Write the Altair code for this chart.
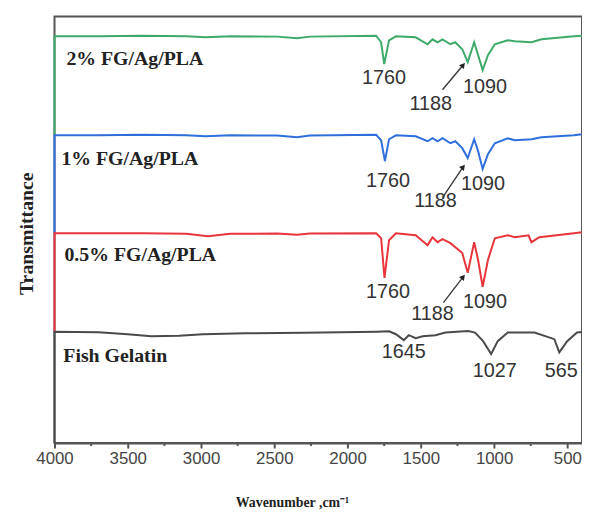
import altair as alt
import pandas as pd

# ---- spectra: (wavenumber cm-1, offset transmittance) ----
green = [(4000, 311), (4000, 411), (3700, 411), (3400, 411.5), (3100, 411), (2970, 410), (2800, 411),
         (2480, 410.7), (2345, 409), (2257, 410.7), (1805, 411.7), (1771, 405), (1750, 383), (1717, 407),
         (1670, 411), (1535, 410), (1454, 403), (1420, 408), (1386, 405), (1352, 408), (1298, 403),
         (1265, 405), (1217, 398), (1180, 385), (1136, 405), (1109, 392), (1078, 377), (1042, 392),
         (995, 403), (907, 407), (859, 406), (745, 405), (677, 408), (454, 411), (400, 411.5)]
blue = [(4000, 212), (4000, 311), (3700, 311), (3400, 311.5), (3100, 311), (2970, 310), (2800, 311),
        (2480, 310.7), (2345, 309), (2257, 310.7), (1805, 311.5), (1771, 306), (1745, 285), (1717, 307),
        (1670, 311), (1535, 310), (1454, 305), (1420, 308), (1386, 305), (1352, 308), (1298, 303),
        (1265, 305), (1217, 298), (1180, 288), (1136, 307), (1109, 295), (1078, 277), (1042, 292),
        (995, 303), (907, 308), (859, 306), (745, 307), (677, 309), (454, 311), (400, 312)]
red = [(4000, 113), (4000, 212), (3700, 212), (3400, 212), (3100, 211.5), (2953, 209), (2800, 211.5),
       (2480, 211.7), (2345, 210.5), (2257, 211.7), (1805, 212), (1771, 207), (1748, 167), (1717, 205),
       (1670, 212), (1535, 210), (1454, 200), (1420, 208), (1386, 203), (1352, 206), (1298, 202),
       (1217, 192), (1180, 172), (1136, 203), (1109, 185), (1078, 158), (1042, 185), (995, 207),
       (907, 210), (859, 208), (765, 210), (745, 203), (691, 208), (454, 212), (400, 213)]
gray = [(4000, 0), (4000, 112.6), (3700, 112), (3500, 110), (3340, 108), (3150, 108.5), (2987, 110),
        (2700, 111), (2300, 111.5), (1800, 112.6), (1717, 113), (1670, 110), (1616, 104), (1582, 109),
        (1535, 106), (1487, 108), (1400, 109), (1332, 111.7), (1177, 113.3), (1130, 111.7), (1075, 103),
        (1020, 90), (975, 103), (907, 111.7), (724, 111.7), (589, 105), (555, 91.7), (501, 103),
        (434, 111.7), (400, 112.3)]

series_names = ["2% FG/Ag/PLA", "1% FG/Ag/PLA", "0.5% FG/Ag/PLA", "Fish Gelatin"]
series_colors = ["#3daa6a", "#2f6fdc", "#e8353c", "#4a4a4a"]

major_ticks = [4000, 3500, 3000, 2500, 2000, 1500, 1000, 500]
minor_ticks = [3750, 3250, 2750, 2250, 1750, 1250, 750]

# series name labels: (text, wn, t)
name_labels = [("2% FG/Ag/PLA", 3919, 388), ("1% FG/Ag/PLA", 3953, 287),
               ("0.5% FG/Ag/PLA", 3932, 190), ("Fish Gelatin", 3940, 88)]
# peak labels: (text, wn, t)
peak_labels = [("1760", 1751, 369), ("1188", 1433, 343), ("1090", 1062, 360),
               ("1760", 1724, 265), ("1188", 1400, 245), ("1090", 1076, 262),
               ("1760", 1724, 153), ("1188", 1420, 130), ("1090", 1062, 142),
               ("1645", 1616, 92), ("1027", 995, 73), ("565", 542, 73)]
# arrows: (wn start, t start, wn end, t end)
arrows = [(1352, 357, 1211, 382), (1352, 248, 1211, 279), (1346, 142, 1211, 168)]

rows = []
for name, pts in zip(series_names, [green, blue, red, gray]):
    for i, (w, t) in enumerate(pts):
        rows.append({"series": name, "wn": w, "t": t, "idx": i})
df = pd.DataFrame(rows)

xs = alt.Scale(domain=[4000, 400], nice=False, zero=False)
ys = alt.Scale(domain=[0, 431], nice=False, zero=False)

lines = alt.Chart(df).mark_line(strokeWidth=2).encode(
    x=alt.X("wn:Q", scale=xs, axis=alt.Axis(
        values=major_ticks, format="d", title="Wavenumber ,cm⁻¹", grid=False,
        labelFont="Liberation Sans", labelFontSize=17, labelColor="#444", labelFlush=False,
        labelPadding=3, tickSize=5, tickWidth=2, tickColor="#555",
        domainColor="#555", domainWidth=2,
        titleFont="Liberation Serif", titleFontSize=14, titleFontWeight="bold", titleColor="#222",
        titleX=240, titleY=60, titleAlign="center", titleBaseline="middle")),
    y=alt.Y("t:Q", scale=ys, axis=alt.Axis(
        labels=False, ticks=False, domain=False, grid=False, title="Transmittance",
        titleFont="Liberation Serif", titleFontSize=20, titleFontWeight="bold", titleColor="#222",
        titleX=-28, titleY=219, titleAngle=270, titleAlign="center", titleBaseline="middle")),
    color=alt.Color("series:N", scale=alt.Scale(domain=series_names, range=series_colors), legend=None),
    order="idx:Q",
)

minor = alt.Chart(pd.DataFrame({"wn": minor_ticks})).mark_rule(color="#555", strokeWidth=2).encode(
    x=alt.X("wn:Q", scale=xs), y=alt.value(431), y2=alt.value(434))

ndf = pd.DataFrame(name_labels, columns=["text", "wn", "t"])
names = alt.Chart(ndf).mark_text(font="Liberation Serif", fontWeight="bold", fontSize=20,
                                 color="#222", align="left", baseline="middle").encode(
    x=alt.X("wn:Q", scale=xs), y=alt.Y("t:Q", scale=ys), text="text:N")

pdf = pd.DataFrame(peak_labels, columns=["text", "wn", "t"])
peaks = alt.Chart(pdf).mark_text(font="Liberation Sans", fontSize=20, color="#333",
                                 align="center", baseline="middle").encode(
    x=alt.X("wn:Q", scale=xs), y=alt.Y("t:Q", scale=ys), text="text:N")

adf = pd.DataFrame(arrows, columns=["w1", "t1", "w2", "t2"])
arrow_lines = alt.Chart(adf).mark_rule(color="#333", strokeWidth=1.3).encode(
    x=alt.X("w1:Q", scale=xs), y=alt.Y("t1:Q", scale=ys), x2="w2:Q", y2="t2:Q")
arrow_heads = alt.Chart(adf).mark_point(shape="triangle-up", filled=True, color="#222",
                                        size=40, angle=39, opacity=1).encode(
    x=alt.X("w2:Q", scale=xs), y=alt.Y("t2:Q", scale=ys))

chart = alt.layer(lines, minor, names, peaks, arrow_lines, arrow_heads).properties(
    width=533, height=431,
    autosize=alt.AutoSizeParams(type="none"),
    padding={"left": 47, "top": 6, "right": 0, "bottom": 66},
).configure_view(stroke="#555", strokeWidth=2)

chart.save("out.html", embed_options={"renderer": "svg", "actions": False})
